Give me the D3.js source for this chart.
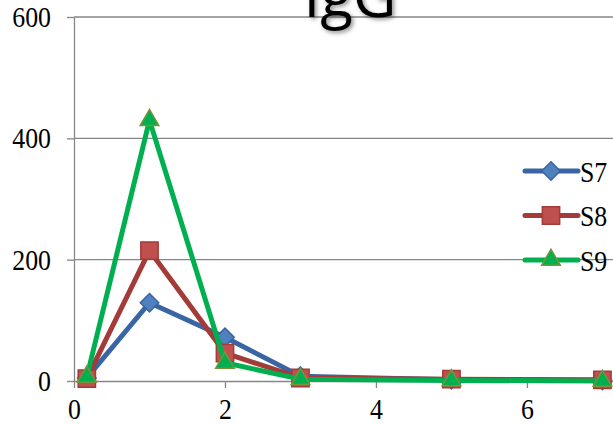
<!DOCTYPE html>
<html>
<head>
<meta charset="utf-8">
<script src="https://cdn.jsdelivr.net/npm/d3@7"></script>
<style>
  body { margin: 0; background: #fff; }
  svg { display: block; }
</style>
</head>
<body>
<div id="chart"></div>
<script>
// data
const days = [0.17, 1, 2, 3, 5, 7];
const s7 = [5, 129, 72, 8, 2, 1];
const s8 = [4, 215, 46, 5, 3, 2];
const s9 = [7, 430, 30, 3, 1, 0];
const seriesNames = ["S7", "S8", "S9"];
const xTicks = [0, 2, 4, 6];
const yTicks = [0, 200, 400, 600];

const W = 613, H = 424;
const margin = {top: 17, right: 0, bottom: 43, left: 74};

const svg = d3.select("#chart").append("svg")
  .attr("width", W).attr("height", H);

const defs = svg.append("defs");
defs.append("filter").attr("id", "shadow")
  .attr("x", "-20%").attr("y", "-20%").attr("width", "140%").attr("height", "140%")
  .append("feDropShadow")
  .attr("dx", 2).attr("dy", 2).attr("stdDeviation", 2)
  .attr("flood-color", "#000").attr("flood-opacity", 0.45);

const x = d3.scaleLinear().domain([0, 7.14]).range([margin.left, W - margin.right]);
const y = d3.scaleLinear().domain([0, 600]).range([H - margin.bottom, margin.top]);

// gridlines
svg.append("g")
  .selectAll("line")
  .data(yTicks.filter(d => d > 0))
  .join("line")
  .attr("x1", margin.left).attr("x2", W)
  .attr("y1", d => y(d)).attr("y2", d => y(d))
  .attr("stroke", "#868686").attr("stroke-width", 1.3);

// y axis
const yAxis = svg.append("g")
  .attr("transform", "translate(" + margin.left + ",0)")
  .call(d3.axisLeft(y).tickValues(yTicks).tickSize(7).tickSizeOuter(0).tickPadding(16));
yAxis.select(".domain").attr("stroke", "#868686").attr("stroke-width", 1.3);
yAxis.selectAll(".tick line").attr("stroke", "#868686").attr("stroke-width", 1.3);

// x axis
const xAxis = svg.append("g")
  .attr("transform", "translate(0," + y(0) + ")")
  .call(d3.axisBottom(x).tickValues(xTicks).tickSize(7).tickSizeOuter(0).tickPadding(10));
xAxis.select(".domain").attr("stroke", "#868686").attr("stroke-width", 1.3);
xAxis.selectAll(".tick line").attr("stroke", "#868686").attr("stroke-width", 1.3);

// the labels in the original are a narrow serif: squeeze them a bit
function narrow(sel) {
  sel.each(function () {
    const w = this.getComputedTextLength();
    d3.select(this).attr("textLength", w * 0.86).attr("lengthAdjust", "spacingAndGlyphs");
  });
}

svg.selectAll(".tick text")
  .attr("font-family", "'Liberation Serif', 'DejaVu Serif', serif")
  .attr("font-size", 30)
  .attr("fill", "#000")
  .call(narrow);

// title, cut off by the top edge as in the original
svg.append("text")
  .attr("x", 350).attr("y", 17)
  .attr("text-anchor", "middle")
  .attr("font-family", "'Open Sans', sans-serif")
  .attr("font-size", 60)
  .attr("fill", "#000")
  .attr("filter", "url(#shadow)")
  .text("IgG");

const diamond = {
  draw(ctx, size) {
    const r = Math.sqrt(size / 2);
    ctx.moveTo(0, -r); ctx.lineTo(r, 0); ctx.lineTo(0, r); ctx.lineTo(-r, 0); ctx.closePath();
  }
};

const series = [
  {name: seriesNames[0], values: s7, line: "#3A65A4", fill: "#4F81BD", stroke: "#3A65A4", shape: diamond, size: 170},
  {name: seriesNames[1], values: s8, line: "#A33B38", fill: "#C0504D", stroke: "#A33B38", shape: d3.symbolSquare, size: 300},
  {name: seriesNames[2], values: s9, line: "#00B050", fill: "#00B050", stroke: "#77933C", shape: d3.symbolTriangle, size: 150}
];

const line = d3.line()
  .x((d, i) => x(days[i]))
  .y(d => y(d));

series.forEach(s => {
  const g = svg.append("g");
  g.append("path")
    .datum(s.values)
    .attr("d", line)
    .attr("fill", "none")
    .attr("stroke", s.line)
    .attr("stroke-width", 5)
    .attr("stroke-linejoin", "round");
  g.selectAll("path.m")
    .data(s.values)
    .join("path")
    .attr("class", "m")
    .attr("d", d3.symbol().type(s.shape).size(s.size))
    .attr("transform", (d, i) => "translate(" + x(days[i]) + "," + y(d) + ")")
    .attr("fill", s.fill)
    .attr("stroke", s.stroke)
    .attr("stroke-width", 1.5);
});

// legend
const legend = svg.append("g");
const legendY = d3.scalePoint().domain(seriesNames).range([171, 260]);
series.forEach(s => {
  const ly = legendY(s.name);
  legend.append("line")
    .attr("x1", 525).attr("x2", 578)
    .attr("y1", ly).attr("y2", ly)
    .attr("stroke", s.line).attr("stroke-width", 5)
    .attr("stroke-linecap", "round");
  legend.append("path")
    .attr("d", d3.symbol().type(s.shape).size(s.size))
    .attr("transform", "translate(551," + ly + ")")
    .attr("fill", s.fill)
    .attr("stroke", s.stroke)
    .attr("stroke-width", 1.5);
  legend.append("text")
    .attr("x", 580).attr("y", ly)
    .attr("dy", "0.35em")
    .attr("font-family", "'Liberation Serif', 'DejaVu Serif', serif")
    .attr("font-size", 30)
    .attr("fill", "#000")
    .text(s.name)
    .call(narrow);
});
</script>
</body>
</html>
